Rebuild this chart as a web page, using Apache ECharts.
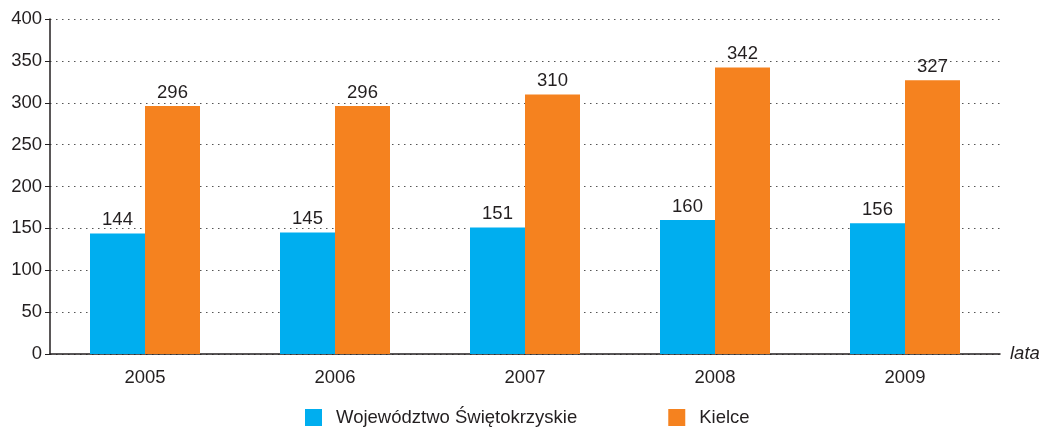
<!DOCTYPE html>
<html>
<head>
<meta charset="utf-8">
<script src="https://cdn.jsdelivr.net/npm/echarts@6/dist/echarts.min.js"></script>
<style>
  html, body { margin: 0; padding: 0; background: #fff; }
  #chart { width: 1039px; height: 430px; }
</style>
</head>
<body>
<div id="chart"></div>
<script>
var years = ['2005', '2006', '2007', '2008', '2009'];
var woj = [144, 145, 151, 160, 156];
var kielce = [296, 296, 310, 342, 327];
var seriesNames = ['Województwo Świętokrzyskie', 'Kielce'];

var font = 'Liberation Sans, Arial, sans-serif';
var textColor = '#231f20';
var fs = 18.5;

var chart = echarts.init(document.getElementById('chart'));
var option = {
    animation: false,
    textStyle: { fontFamily: font },
    legend: {
        top: 403,
        left: 300,
        itemWidth: 17,
        itemHeight: 17,
        itemGap: 91,
        icon: 'rect',
        textStyle: { fontSize: fs, color: textColor, fontFamily: font, padding: [0, 0, 0, 9] },
        data: seriesNames
    },
    grid: { left: 50, right: 39, top: 19, bottom: 76, outerBoundsMode: 'none' },
    xAxis: {
        type: 'category',
        data: years,
        name: 'lata',
        nameLocation: 'end',
        nameGap: 10,
        nameTextStyle: { fontStyle: 'italic', fontSize: fs, color: textColor, fontFamily: font, verticalAlign: 'middle' },
        axisLine: { lineStyle: { color: '#231f20', width: 1.5 } },
        axisTick: { show: false },
        axisLabel: { fontSize: fs, color: textColor, margin: 14, fontFamily: font }
    },
    yAxis: {
        type: 'value',
        min: 0,
        max: 400,
        interval: 50,
        axisLine: { show: true, lineStyle: { color: '#231f20', width: 1.5 } },
        axisTick: { show: true, length: 5, lineStyle: { color: '#231f20' } },
        axisLabel: { fontSize: fs, color: textColor, margin: 8, fontFamily: font },
        splitLine: { lineStyle: { type: [1.5, 4.5], color: '#555', width: 1.2 } }
    },
    series: [
        {
            name: seriesNames[0],
            type: 'bar',
            data: woj,
            barWidth: 55,
            barGap: '0%',
            itemStyle: { color: '#00aeef' },
            label: { show: true, position: 'top', fontSize: fs, color: textColor, distance: 4, fontFamily: font }
        },
        {
            name: seriesNames[1],
            type: 'bar',
            data: kielce,
            barWidth: 55,
            barGap: '0%',
            itemStyle: { color: '#f5821f' },
            label: { show: true, position: 'top', fontSize: fs, color: textColor, distance: 4, fontFamily: font }
        }
    ]
};
chart.setOption(option);
</script>
</body>
</html>
